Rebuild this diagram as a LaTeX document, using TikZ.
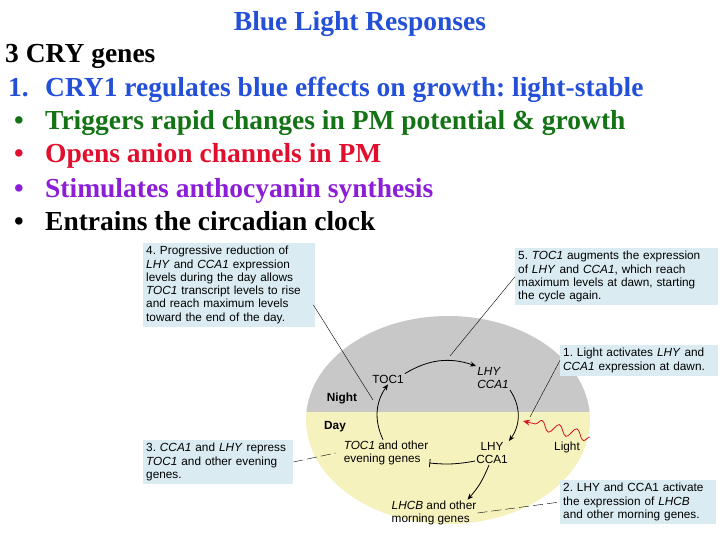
\documentclass[tikz,border=0pt]{standalone}
\usepackage{fontspec}
\setmainfont{Liberation Serif}
\newfontfamily\figfont{Liberation Sans}
\usetikzlibrary{arrows.meta,decorations.pathmorphing}

\definecolor{ttlblue}{RGB}{35,80,215}
\definecolor{itmgreen}{RGB}{20,115,20}
\definecolor{itmred}{RGB}{225,15,45}
\definecolor{itmpurple}{RGB}{140,30,215}
\definecolor{boxblue}{RGB}{218,236,242}
\definecolor{nightgrey}{RGB}{200,200,200}
\definecolor{dayyellow}{RGB}{246,242,190}
\definecolor{lightred}{RGB}{215,20,30}

\begin{document}
\frenchspacing
\begin{tikzpicture}[x=1pt,y=-1pt,
  slide/.style={anchor=base west,inner sep=0pt,font=\fontsize{27.5}{30}\selectfont\bfseries},
  callout/.style={anchor=north west,fill=boxblue,inner sep=3pt,align=left,font=\figfont\fontsize{11.8}{13.3}\selectfont},
  lbl/.style={inner sep=1pt,align=left,font=\figfont\fontsize{11.8}{13.3}\selectfont},
  cyc/.style={-{Stealth[length=6pt,width=5pt]},thick},
  pointer/.style={thin}]
  \useasboundingbox (0,0) rectangle (720,540);

  % slide text
  \node[slide,anchor=base,text=ttlblue] at (360,31) (title) {Blue Light Responses};
  \node[slide] at (5,63) (genes) {3 CRY genes};
  \node[slide,text=ttlblue] at (8,97) (cry1) {\makebox[37pt][l]{1.}CRY1 regulates blue effects on growth: light-stable};
  \node[slide,text=itmgreen] at (8,130) (trig) {\makebox[37pt][l]{\hspace{6pt}\textbullet}Triggers rapid changes in PM potential \& growth};
  \node[slide,text=itmred] at (8,163) (opens) {\makebox[37pt][l]{\hspace{6pt}\textbullet}Opens anion channels in PM};
  \node[slide,text=itmpurple] at (8,197) (stim) {\makebox[37pt][l]{\hspace{6pt}\textbullet}Stimulates anthocyanin synthesis};
  \node[slide] at (8,230) (entr) {\makebox[37pt][l]{\hspace{6pt}\textbullet}Entrains the circadian clock};

  % night / day disk
  \begin{scope}
    \clip (448,420) ellipse [x radius=142, y radius=104];
    \fill[nightgrey] (300,300) rectangle (600,412);
    \fill[dayyellow] (300,412) rectangle (600,530);
  \end{scope}

  % callouts
  \node[callout,text width=166pt] at (143,243) (box4) {4. Progressive reduction of\\\textit{LHY} and \textit{CCA1} expression\\levels during the day allows\\\textit{TOC1} transcript levels to rise\\and reach maximum levels\\toward the end of the day.};
  \node[callout,text width=197pt] at (515,248) (box5) {5. \textit{TOC1} augments the expression\\of \textit{LHY} and \textit{CCA1}, which reach\\maximum levels at dawn, starting\\the cycle again.};
  \node[callout,text width=152pt] at (560,345) (box1) {1. Light activates \textit{LHY} and\\\textit{CCA1} expression at dawn.};
  \node[callout,text width=144pt] at (143,440) (box3) {3. \textit{CCA1} and \textit{LHY} repress\\\textit{TOC1} and other evening\\genes.};
  \node[callout,text width=150pt] at (560,480) (box2) {2. LHY and CCA1 activate\\the expression of \textit{LHCB}\\and other morning genes.};

  % clock labels
  \node[lbl] at (388,379) (toc1) {TOC1};
  \node[lbl] at (493,378) (lhyi) {\textit{LHY}\\\textit{CCA1}};
  \node[lbl,font=\figfont\fontsize{11.8}{13.3}\selectfont\bfseries] at (342,398) (night) {Night};
  \node[lbl,font=\figfont\fontsize{11.8}{13.3}\selectfont\bfseries] at (335,427) (day) {Day};
  \node[lbl] at (386,453) (eve) {\textit{TOC1} and other\\evening genes};
  \node[lbl,align=center] at (492,453) (lhy) {LHY\\CCA1};
  \node[lbl] at (567,447) (light) {Light};
  \node[lbl] at (434,513) (morn) {\textit{LHCB} and other\\morning genes};

  % cycle
  \draw[cyc] (toc1.north east) to[bend left=25] (lhyi.north west);
  \draw[cyc] (lhyi.south east) to[bend left=35] (lhy.north east);
  \draw[-{Bar[width=8pt]},thick] ([yshift=-8pt]lhy.west) to[bend left=8] ([yshift=-10pt]eve.east);
  \draw[cyc] ([xshift=-3pt]lhy.south) to[bend left=10] ([xshift=-10pt]morn.north east);
  \draw[cyc] ([xshift=-3pt]eve.north) to[bend left=30] (toc1.south);

  % pointers
  \coordinate (p4) at (373,400);
  \coordinate (p5) at (450,356);
  \coordinate (p1) at (530,417);
  \coordinate (lsrc) at (590,437);
  \coordinate (ltip) at (523,421);
  \draw[pointer] ([xshift=-2pt,yshift=-20pt]box4.east) -- (p4);
  \draw[pointer] (box5.west) -- (p5);
  \draw[pointer] (box1.west) -- (p1);
  \draw[pointer,dash pattern=on 10pt off 4pt] (box3.east) -- ([xshift=-7pt]eve.west);
  \draw[pointer,dash pattern=on 10pt off 4pt] (morn.east) -- (box2.west);

  % light
  \draw[lightred,thick,-{Stealth[length=7pt,width=6pt]},decorate,
    decoration={snake,amplitude=5pt,segment length=18pt,post length=6pt}] (lsrc) -- (ltip);
\end{tikzpicture}
\end{document}
